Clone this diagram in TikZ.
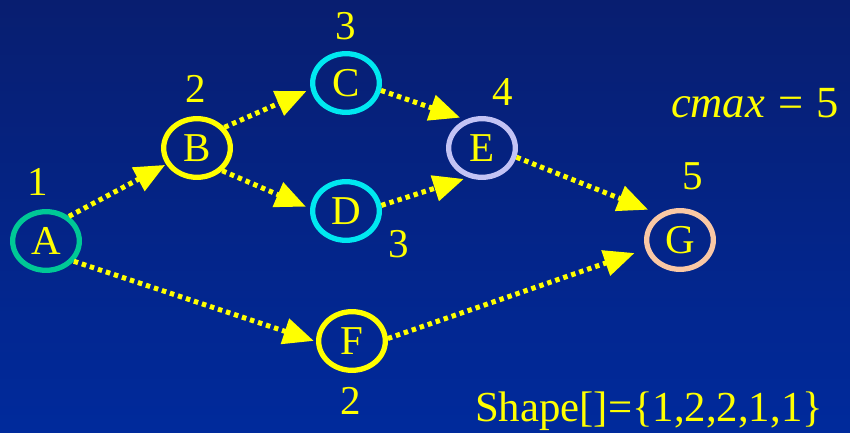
\documentclass[tikz,border=0pt]{standalone}
\usepackage{fontspec}
\setmainfont{Liberation Serif}
\newfontfamily\tnr{Liberation Serif}
\usetikzlibrary{shapes.geometric,arrows.meta}
\definecolor{bgtop}{RGB}{8,30,112}
\definecolor{bgbot}{RGB}{0,42,156}
\definecolor{ylw}{RGB}{255,255,0}
\definecolor{colA}{RGB}{0,200,150}
\definecolor{colC}{RGB}{0,232,240}
\definecolor{colE}{RGB}{195,195,245}
\definecolor{colG}{RGB}{250,200,165}
\begin{document}
\begin{tikzpicture}[x=0.03cm,y=-0.03cm,
  vtx/.style={ellipse,draw,line width=4.5pt,minimum width=2.0cm,minimum height=1.76cm,inner sep=0pt,text=ylw,font=\tnr\fontsize{35}{40}\selectfont},
  lbl/.style={text=ylw,font=\tnr\fontsize{35}{40}\selectfont,inner sep=0pt},
  arr/.style={draw=ylw,line width=4.3pt,dash pattern=on 3.8pt off 3.4pt,-{Triangle[length=26pt,width=22pt]}}
]
\shade[top color=bgtop,bottom color=bgbot] (0,0) rectangle (850,433);
\useasboundingbox (0,0) rectangle (850,433);
\node[vtx,draw=colA] (A) at (46,241) {A};
\node[vtx,draw=ylw] (B) at (197,148) {B};
\node[vtx,draw=colC] (C) at (346,83) {C};
\node[vtx,draw=colC] (D) at (346,211) {D};
\node[vtx,draw=colE] (E) at (482,148) {E};
\node[vtx,draw=ylw] (F) at (352,341) {F};
\node[vtx,draw=colG] (G) at (680,240) {G};
\node[lbl] (l1) at (38,182) {1};
\node[lbl] (l2) at (196,89) {2};
\node[lbl] (l3) at (346,26) {3};
\node[lbl] (l4) at (503,92) {4};
\node[lbl] (l5) at (399,244) {3};
\node[lbl] (l6) at (693,176) {5};
\node[lbl] (l7) at (351,401) {2};
\node[lbl,font=\tnr\fontsize{38}{44}\selectfont] (cmax) at (755,103) {\itshape cmax\hspace{0.3em}\upshape=\hspace{0.3em}5};
\node[lbl,font=\tnr\fontsize{36.5}{42}\selectfont] (shape) at (649,411) {Shape[]=\{1,2,2,1,1\}};
\draw[arr,shorten >=1pt] (A.47) -- (B.208);
\draw[arr,shorten >=4pt] (B.37) -- (C.190);
\draw[arr,shorten >=4pt] (B.-42) -- (D.176);
\draw[arr,shorten >=5pt] (C.-12) -- (E.120);
\draw[arr,shorten >=4pt] (D.9) -- (E.245);
\draw[arr,shorten >=10pt] (E.-15) -- (G.129);
\draw[arr,shorten >=10pt] (F.4) -- (G.195);
\draw[arr,shorten >=2pt] (A.-36) -- (F.181);
\end{tikzpicture}
\end{document}
